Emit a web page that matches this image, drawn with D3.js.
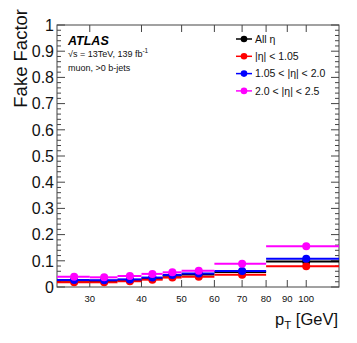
<!DOCTYPE html>
<html>
<head>
<meta charset="utf-8">
<script src="https://cdn.jsdelivr.net/npm/d3@7"></script>
<style>
  body { margin: 0; background: #fff; }
  text { font-family: "Liberation Sans", Arial, Helvetica, sans-serif; }
</style>
</head>
<body>
<div id="chart"></div>
<script>
// bins in pT [GeV]
var binEdges = [25, 30, 35, 40, 45, 50, 60, 80, 120];
var binCenters = [27.5, 32.5, 37.5, 42.5, 47.5, 55, 70, 100];

// fake factor per eta region
var allEta  = [0.024, 0.023, 0.027, 0.033, 0.043, 0.048, 0.057, 0.097];
var central = [0.018, 0.018, 0.022, 0.028, 0.036, 0.039, 0.047, 0.079];
var midEta  = [0.027, 0.026, 0.029, 0.036, 0.046, 0.052, 0.061, 0.108];
var fwdEta  = [0.039, 0.037, 0.042, 0.050, 0.056, 0.062, 0.089, 0.156];

var seriesNames = ["All \u03b7", "|\u03b7| < 1.05", "1.05 < |\u03b7| < 2.0", "2.0 < |\u03b7| < 2.5"];
var seriesColors = ["#000000", "#ff0000", "#0000ff", "#ff00ff"];
var seriesValues = [allEta, central, midEta, fwdEta];

var xTicks = [30, 40, 50, 60, 70, 80, 90, 100];
var yTicks = d3.range(0, 1.0001, 0.1);
var yMinor = d3.range(0, 1.0001, 0.02);

var W = 357, H = 343;
var margin = {top: 25, right: 18, bottom: 56, left: 57},
    width = W - margin.left - margin.right,
    height = H - margin.top - margin.bottom;

var x = d3.scaleLog().domain([25, 120]).range([0, width]);
var y = d3.scaleLinear().domain([0, 1]).range([height, 0]);

var svg = d3.select("#chart").append("svg")
    .attr("width", W)
    .attr("height", H);

var g = svg.append("g")
    .attr("transform", "translate(" + margin.left + "," + margin.top + ")");

var axisColor = "#444";

// frame
g.append("rect")
    .attr("width", width)
    .attr("height", height)
    .attr("fill", "none")
    .attr("stroke", axisColor)
    .attr("stroke-width", 1);

// y ticks (left and right)
yMinor.forEach(function(v, i) {
  var major = (i % 5 === 0);
  var len = major ? 8 : 4;
  g.append("line").attr("x1", 0).attr("x2", len)
    .attr("y1", y(v)).attr("y2", y(v)).attr("stroke", axisColor);
  g.append("line").attr("x1", width).attr("x2", width - len)
    .attr("y1", y(v)).attr("y2", y(v)).attr("stroke", axisColor);
});

g.selectAll(".ylab")
    .data(yTicks)
  .enter().append("text")
    .attr("class", "ylab")
    .attr("x", -3)
    .attr("y", function(d) { return y(d); })
    .attr("dy", "0.36em")
    .attr("text-anchor", "end")
    .attr("font-size", 16)
    .attr("fill", "#111")
    .text(function(d) { return d === 0 ? "0" : (Math.abs(d - 1) < 1e-9 ? "1" : d3.format(".1f")(d)); });

// x ticks (bottom and top)
xTicks.forEach(function(v) {
  g.append("line").attr("x1", x(v)).attr("x2", x(v))
    .attr("y1", height).attr("y2", height - 7).attr("stroke", axisColor);
  g.append("line").attr("x1", x(v)).attr("x2", x(v))
    .attr("y1", 0).attr("y2", 7).attr("stroke", axisColor);
});

g.selectAll(".xlab")
    .data(xTicks)
  .enter().append("text")
    .attr("class", "xlab")
    .attr("x", function(d) { return x(d); })
    .attr("y", height + 15)
    .attr("text-anchor", "middle")
    .attr("font-size", 9.5)
    .attr("fill", "#111")
    .text(function(d) { return d; });

// series: horizontal bin-width bars + markers
seriesValues.forEach(function(vals, s) {
  var col = seriesColors[s];
  g.selectAll(".bar" + s)
      .data(vals)
    .enter().append("line")
      .attr("x1", function(d, i) { return x(binEdges[i]); })
      .attr("x2", function(d, i) { return x(binEdges[i + 1]); })
      .attr("y1", function(d) { return y(d); })
      .attr("y2", function(d) { return y(d); })
      .attr("stroke", col)
      .attr("stroke-width", 2);
  g.selectAll(".pt" + s)
      .data(vals)
    .enter().append("circle")
      .attr("cx", function(d, i) { return x(binCenters[i]); })
      .attr("cy", function(d) { return y(d); })
      .attr("r", 4)
      .attr("fill", col);
});

// legend
var legend = g.append("g").attr("transform", "translate(" + (244 - margin.left) + "," + (39 - margin.top) + ")");
seriesNames.forEach(function(name, i) {
  var row = legend.append("g").attr("transform", "translate(0," + (i * 17.3) + ")");
  row.append("line").attr("x1", -8).attr("x2", 8).attr("y1", 0).attr("y2", 0)
    .attr("stroke", seriesColors[i]).attr("stroke-width", 1.5);
  row.append("circle").attr("r", 3.3).attr("fill", seriesColors[i]);
  row.append("text").attr("x", 11).attr("y", 0).attr("dy", "0.36em")
    .attr("font-size", 10.5).attr("fill", "#111").text(name);
});

// ATLAS label
svg.append("text")
    .attr("x", 68).attr("y", 44.5)
    .attr("font-size", 12.5)
    .attr("font-weight", "bold")
    .attr("font-style", "italic")
    .text("ATLAS");

var sq = svg.append("text")
    .attr("x", 68).attr("y", 56.5)
    .attr("font-size", 9)
    .attr("fill", "#111");
sq.append("tspan").text("\u221as = 13TeV, 139 fb");
sq.append("tspan").attr("dy", -3.5).attr("font-size", 6.5).text("-1");

svg.append("text")
    .attr("x", 68).attr("y", 71)
    .attr("font-size", 9)
    .attr("fill", "#111")
    .text("muon, >0 b-jets");

// axis titles
svg.append("text")
    .attr("transform", "translate(27,9) rotate(-90)")
    .attr("text-anchor", "end")
    .attr("font-size", 18.5)
    .attr("fill", "#111")
    .text("Fake Factor");

var xt = svg.append("text")
    .attr("x", 338).attr("y", 325)
    .attr("text-anchor", "end")
    .attr("font-size", 16.5)
    .attr("fill", "#111");
xt.append("tspan").text("p");
xt.append("tspan").attr("dy", 4).attr("font-size", 11.5).text("T");
xt.append("tspan").attr("dy", -4).text(" [GeV]");
</script>
</body>
</html>
